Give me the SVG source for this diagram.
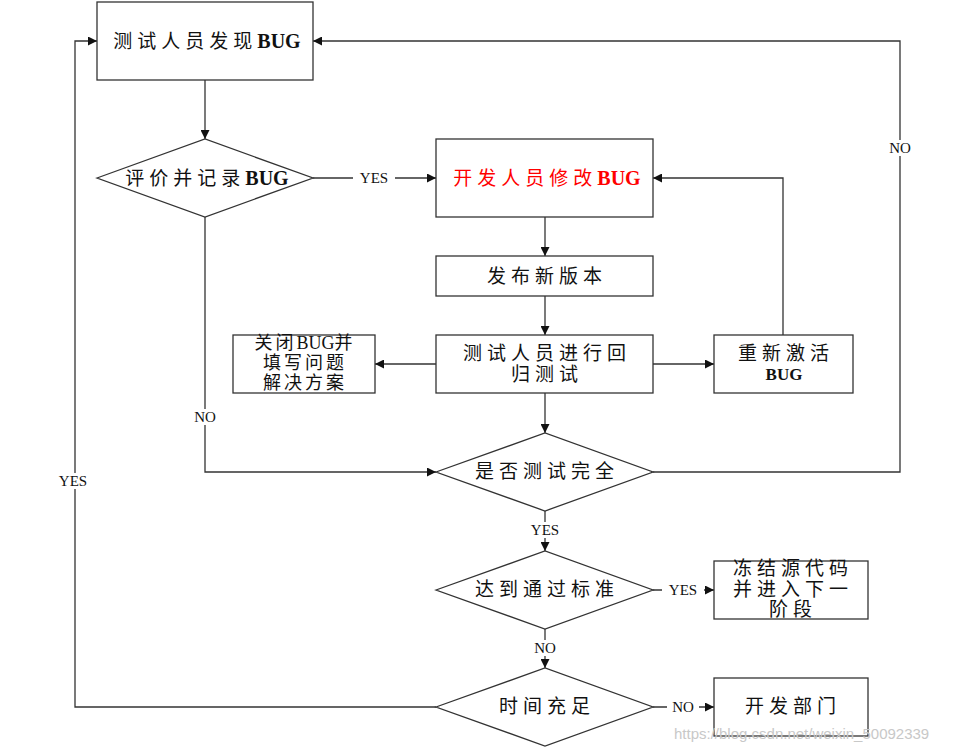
<svg xmlns="http://www.w3.org/2000/svg" width="968" height="750" viewBox="0 0 968 750">
<style>
.box{fill:#fff;stroke:#333;stroke-width:1.3}
.ln{fill:none;stroke:#333;stroke-width:1.3}
.t{font-family:"Liberation Serif","Noto Sans CJK SC",serif;font-size:19px;fill:#111;text-anchor:middle;dominant-baseline:central;letter-spacing:5px}
.s{font-size:18px;letter-spacing:3px}
.b{font-weight:bold;letter-spacing:0;font-size:20px}
.lbl{font-family:"Liberation Serif",serif;font-size:15px;fill:#111;text-anchor:middle;dominant-baseline:central}
.bg{fill:#fff}
.wm{font-family:"Liberation Sans",sans-serif;font-size:15px;fill:#c8c8c8}
</style>
<defs>
<marker id="a" viewBox="0 0 10 10" refX="10" refY="5" markerWidth="9" markerHeight="9" markerUnits="userSpaceOnUse" orient="auto">
<path d="M0,0 L10,5 L0,10 z" fill="#111"/>
</marker>
</defs>
<g id="connectors">
<path class="ln" d="M205,80 V139" marker-end="url(#a)"/>
<path class="ln" d="M313,178 H436" marker-end="url(#a)"/>
<path class="ln" d="M545,217 V256" marker-end="url(#a)"/>
<path class="ln" d="M545,296 V335" marker-end="url(#a)"/>
<path class="ln" d="M436,364 H375" marker-end="url(#a)"/>
<path class="ln" d="M653,364 H714" marker-end="url(#a)"/>
<path class="ln" d="M783,335 V178 H653" marker-end="url(#a)"/>
<path class="ln" d="M545,393 V433" marker-end="url(#a)"/>
<path class="ln" d="M205,217 V472 H436" marker-end="url(#a)"/>
<path class="ln" d="M653,472 H900 V41 H313" marker-end="url(#a)"/>
<path class="ln" d="M545,511 V551" marker-end="url(#a)"/>
<path class="ln" d="M653,590 H714" marker-end="url(#a)"/>
<path class="ln" d="M545,629 V668" marker-end="url(#a)"/>
<path class="ln" d="M653,707 H714" marker-end="url(#a)"/>
<path class="ln" d="M436,707 H75 V41 H97" marker-end="url(#a)"/>
<rect class="bg" x="353" y="170" width="42" height="16"/>
<text class="lbl" x="374" y="178">YES</text>
<rect class="bg" x="189" y="409" width="32" height="16"/>
<text class="lbl" x="205" y="417">NO</text>
<rect class="bg" x="884" y="140" width="32" height="16"/>
<text class="lbl" x="900" y="148">NO</text>
<rect class="bg" x="52" y="473" width="42" height="16"/>
<text class="lbl" x="73" y="481">YES</text>
<rect class="bg" x="524" y="522" width="42" height="16"/>
<text class="lbl" x="545" y="530">YES</text>
<rect class="bg" x="662" y="582" width="42" height="16"/>
<text class="lbl" x="683" y="590">YES</text>
<rect class="bg" x="529" y="640" width="32" height="16"/>
<text class="lbl" x="545" y="648">NO</text>
<rect class="bg" x="667" y="699" width="32" height="16"/>
<text class="lbl" x="683" y="707">NO</text>
</g>
<g id="n1"><rect class="box" x="97" y="2" width="216" height="78"/><text class="t" x="207" y="41">测试人员发现<tspan class="b">BUG</tspan></text></g>
<g id="n2"><path class="box" d="M97,178 L205,139 L313,178 L205,217 z"/><text class="t" x="207" y="178">评价并记录<tspan class="b">BUG</tspan></text></g>
<g id="n3"><rect class="box" x="436" y="139" width="217" height="78"/><text class="t" x="547" y="178" style="fill:#ff0000">开发人员修改<tspan class="b">BUG</tspan></text></g>
<g id="n4"><rect class="box" x="436" y="256" width="217" height="40"/><text class="t" x="547" y="276">发布新版本</text></g>
<g id="n5"><rect class="box" x="436" y="335" width="217" height="58"/><text class="t" x="547" y="353">测试人员进行回</text><text class="t" x="547" y="374">归测试</text></g>
<g id="n6"><rect class="box" x="233" y="335" width="142" height="58"/><text class="t s" x="305" y="343">关闭<tspan style="letter-spacing:0">BUG</tspan>并</text><text class="t s" x="305" y="363">填写问题</text><text class="t s" x="305" y="383">解决方案</text></g>
<g id="n7"><rect class="box" x="714" y="335" width="139" height="58"/><text class="t" x="786" y="353">重新激活</text><text class="t b" x="784" y="374" style="font-size:17px">BUG</text></g>
<g id="n8"><path class="box" d="M436,472 L545,433 L653,472 L545,511 z"/><text class="t" x="547" y="471">是否测试完全</text></g>
<g id="n9"><path class="box" d="M436,590 L545,551 L653,590 L545,629 z"/><text class="t" x="547" y="589">达到通过标准</text></g>
<g id="n10"><rect class="box" x="714" y="561" width="154" height="58"/><text class="t" x="793" y="568">冻结源代码</text><text class="t" x="793" y="589">并进入下一</text><text class="t" x="793" y="609">阶段</text></g>
<g id="n11"><path class="box" d="M436,707 L545,668 L653,707 L545,746 z"/><text class="t" x="547" y="706">时间充足</text></g>
<g id="n12"><rect class="box" x="714" y="678" width="154" height="58"/><text class="t" x="793" y="706">开发部门</text></g>
<text class="wm" x="674" y="739">https://blog.csdn.net/weixin_50092339</text>
</svg>
